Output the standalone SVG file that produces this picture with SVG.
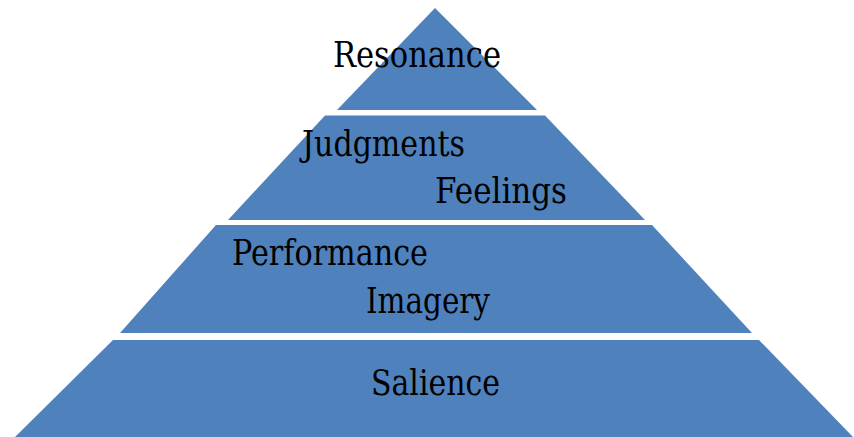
<svg xmlns="http://www.w3.org/2000/svg" width="854" height="437" viewBox="0 0 854 437">
  <style>
    .tier { fill: #4F81BD; }
    .lbl { font-family: "DejaVu Serif", serif; font-size: 35px; fill: #000; }
  </style>
  <rect width="854" height="437" fill="#fff"/>
  <g id="tier-resonance">
    <polygon class="tier" points="435,8 537,110 337,110"/>
    <text class="lbl" x="333" y="67" textLength="168" lengthAdjust="spacingAndGlyphs">Resonance</text>
  </g>
  <g id="tier-judgments-feelings">
    <polygon class="tier" points="325,115.5 545,115.5 645,220 228,220"/>
    <text class="lbl" x="302" y="156" textLength="163" lengthAdjust="spacingAndGlyphs">Judgments</text>
    <text class="lbl" x="435" y="203" textLength="132" lengthAdjust="spacingAndGlyphs">Feelings</text>
  </g>
  <g id="tier-performance-imagery">
    <polygon class="tier" points="216,225 652,225 752,333 120,333"/>
    <text class="lbl" x="232" y="265" textLength="196" lengthAdjust="spacingAndGlyphs">Performance</text>
    <text class="lbl" x="366" y="313" textLength="124" lengthAdjust="spacingAndGlyphs">Imagery</text>
  </g>
  <g id="tier-salience">
    <polygon class="tier" points="113,340 759,340 853,437 15,437"/>
    <text class="lbl" x="371" y="395" textLength="129" lengthAdjust="spacingAndGlyphs">Salience</text>
  </g>
</svg>
